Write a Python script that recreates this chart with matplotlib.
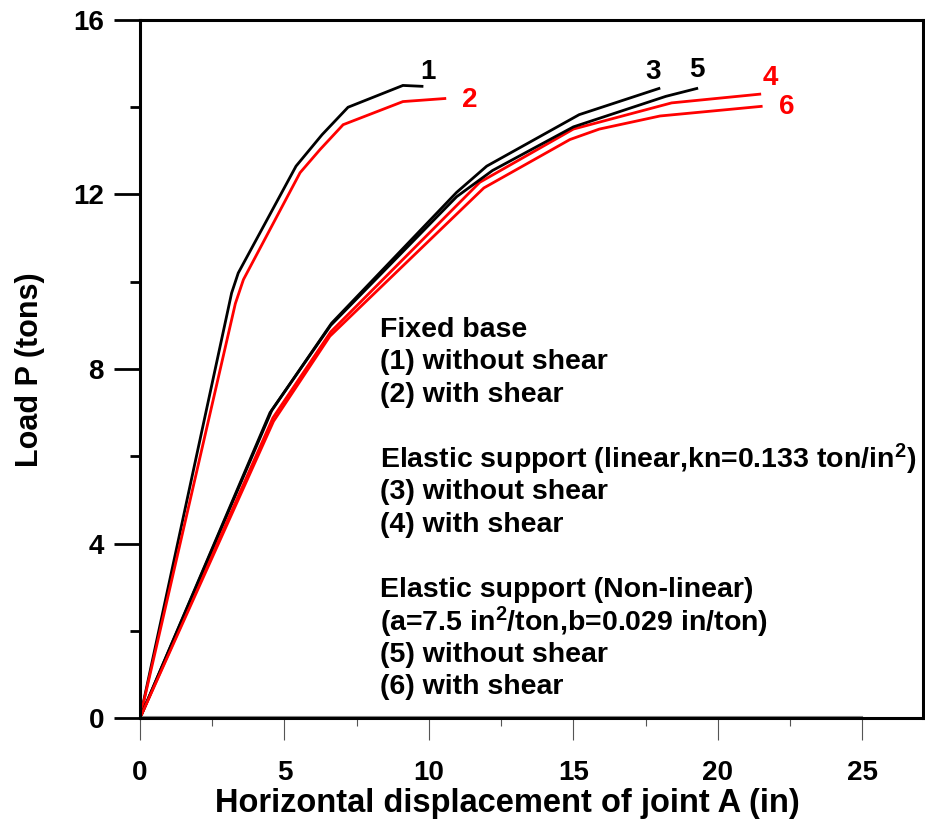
import matplotlib
matplotlib.use("Agg")
import matplotlib.pyplot as plt
from matplotlib.ticker import MultipleLocator

plt.rcParams["font.family"] = ["Liberation Sans", "DejaVu Sans"]
plt.rcParams["font.weight"] = "bold"
plt.rcParams["mathtext.fontset"] = "custom"
plt.rcParams["mathtext.rm"] = "Liberation Sans:bold"
plt.rcParams["mathtext.it"] = "Liberation Sans:bold"
plt.rcParams["mathtext.bf"] = "Liberation Sans:bold"

# load-displacement curves
c1_x = [0, 3.17, 3.4, 5.4, 6.3, 7.2, 9.1, 9.76]
c1_y = [0, 9.74, 10.2, 12.65, 13.37, 14.0, 14.5, 14.48]
c2_x = [0, 3.3, 3.58, 5.54, 6.23, 7.03, 9.1, 10.55]
c2_y = [0, 9.5, 10.05, 12.5, 13.03, 13.6, 14.13, 14.2]
c3_x = [0, 4.56, 6.63, 10.96, 12.0, 15.2, 17.96]
c3_y = [0, 7.05, 9.05, 12.05, 12.65, 13.83, 14.43]
c4_x = [0, 4.6, 6.6, 11.76, 15.0, 18.4, 21.45]
c4_y = [0, 6.88, 8.85, 12.28, 13.5, 14.1, 14.3]
c5_x = [0, 4.5, 6.6, 10.96, 12.2, 15.0, 18.2, 19.27]
c5_y = [0, 7.0, 9.0, 11.95, 12.55, 13.55, 14.25, 14.43]
c6_x = [0, 4.62, 6.57, 11.9, 14.88, 15.9, 18.0, 21.5]
c6_y = [0, 6.8, 8.75, 12.15, 13.26, 13.5, 13.8, 14.02]

curve_labels = ["1", "2", "3", "4", "5", "6"]
label_x = [9.97, 11.42, 17.75, 21.83, 19.27, 22.39]
label_y = [14.8, 14.17, 14.8, 14.66, 14.86, 14.01]
curve_colors = ["black", "red", "black", "red", "black", "red"]

note_lines = [
    "Fixed base",
    "(1) without shear",
    "(2) with shear",
    "",
    "Elastic support (linear,kn=0.133 ton/in$^2$)",
    "(3) without shear",
    "(4) with shear",
    "",
    "Elastic support (Non-linear)",
    "(a=7.5 in$^2$/ton,b=0.029 in/ton)",
    "(5) without shear",
    "(6) with shear",
]

fig = plt.figure(figsize=(9.25, 8.21), dpi=100)
ax = fig.add_axes([140 / 925, 103 / 821, 783 / 925, 698 / 821])

xs = [c1_x, c2_x, c3_x, c4_x, c5_x, c6_x]
ys = [c1_y, c2_y, c3_y, c4_y, c5_y, c6_y]
for x, y, col in zip(xs, ys, curve_colors):
    ax.plot(x, y, color=col, lw=2.0, solid_joinstyle="miter")

for lab, lx, ly, col in zip(curve_labels, label_x, label_y, curve_colors):
    ax.text(lx, ly, lab, color=col, fontsize=20, fontweight="bold", ha="center", va="center")

# annotation block
for i, line in enumerate(note_lines):
    if line:
        ax.text(8.3, 8.9 - i * 0.7445, line, fontsize=20.5, fontweight="bold", ha="left", va="center")

ax.set_xlim(0, 27.1)
ax.set_ylim(0, 16)

ax.yaxis.set_major_locator(MultipleLocator(4))
ax.yaxis.set_minor_locator(MultipleLocator(2))

ax.tick_params(axis="y", which="major", direction="out", length=19, width=2, labelsize=20, pad=7)
ax.tick_params(axis="y", which="minor", direction="out", length=7, width=2)
ax.tick_params(axis="x", which="major", direction="out", length=16, width=0.8, color="#555555",
               labelsize=20, pad=14)
ax.tick_params(axis="x", which="minor", direction="out", length=6, width=0.8, color="#555555")

# x ticks only up to 25
ax.set_xticks([0, 5, 10, 15, 20, 25])
ax.set_xticks([2.5, 7.5, 12.5, 17.5, 22.5], minor=True)
ax.plot([0, 25], [0.04, 0.04], color="#888888", lw=0.8, clip_on=False)

for side in ["left", "right", "top", "bottom"]:
    ax.spines[side].set_linewidth(2.2)

fig.text(507 / 925, 1 - 803 / 821, "Horizontal displacement of joint A (in)",
         fontsize=23.5, fontweight="bold", ha="center", va="center")
fig.text(30 / 925, 1 - 370 / 821, "Load P (tons)", rotation=90,
         fontsize=22, fontweight="bold", ha="center", va="center")

fig.savefig("out.png", dpi=100)
